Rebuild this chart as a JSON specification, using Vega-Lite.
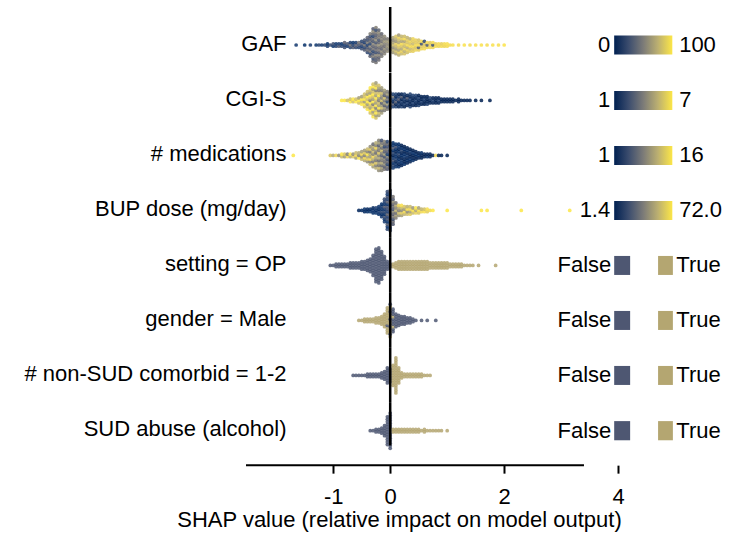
{
  "$schema": "https://vega.github.io/schema/vega-lite/v6.json",
  "padding": {"left": 23, "top": 5, "right": 5, "bottom": 5},
  "spacing": 0,
  "bounds": "flush",
  "config": {
    "view": {"stroke": null},
    "font": "Liberation Sans",
    "axis": {"titleFont": "Liberation Sans", "labelFont": "Liberation Sans", "titleFontWeight": "normal", "titleColor": "black", "labelColor": "black", "grid": false, "titleFontSize": 22, "labelFontSize": 22},
    "text": {"font": "Liberation Sans", "fontSize": 22, "color": "black"},
    "circle": {"size": 14, "opacity": 0.85}
  },
  "resolve": {"scale": {"color": "independent", "y": "independent"}},
  "datasets": {
    "swarm": [
      {"f":"GAF","s":-1.65,"v":[12]},{"f":"GAF","s":-1.5,"v":[8]},{"f":"GAF","s":-1.4,"v":[15]},{"f":"GAF","s":-1.3,"v":[10]},{"f":"GAF","s":-1.25,"v":[18]},{"f":"GAF","s":-1.2,"v":[12]},{"f":"GAF","s":-1.15,"v":[20]},{"f":"GAF","s":-1.1,"v":[15,8]},{"f":"GAF","s":-1.05,"v":[22]},{"f":"GAF","s":-1.0,"v":[10,25]},{"f":"GAF","s":-0.95,"v":[18,12]},{"f":"GAF","s":-0.9,"v":[30,15]},{"f":"GAF","s":-0.85,"v":[20,10]},{"f":"GAF","s":-0.8,"v":[25,15,35]},{"f":"GAF","s":-0.75,"v":[12,28]},{"f":"GAF","s":-0.7,"v":[20,40,15]},{"f":"GAF","s":-0.65,"v":[30,18,10]},{"f":"GAF","s":-0.6,"v":[22,35,15]},{"f":"GAF","s":-0.55,"v":[18,28,45]},{"f":"GAF","s":-0.5,"v":[25,15,35,20]},{"f":"GAF","s":-0.45,"v":[30,20,45,15,28]},{"f":"GAF","s":-0.4,"v":[22,40,30,15,50,25,35]},{"f":"GAF","s":-0.35,"v":[35,20,45,28,55,18,40,30,25,50]},{"f":"GAF","s":-0.3,"v":[40,25,50,30,20,45,35,55,28,42,18,38,60,32]},{"f":"GAF","s":-0.25,"v":[45,30,38,55,25,42,35,50,28,60,40,33,48,22,52]},{"f":"GAF","s":-0.2,"v":[42,35,55,30,48,40,62,38,28,50,45,58,36]},{"f":"GAF","s":-0.15,"v":[50,40,58,35,45,62,42,55,48,38]},{"f":"GAF","s":-0.1,"v":[55,45,60,42,52,65,48,58]},{"f":"GAF","s":-0.05,"v":[58,50,62,55,65,48]},{"f":"GAF","s":0.0,"v":[60,68,55,72,62]},{"f":"GAF","s":0.05,"v":[65,75,60,80,70,58,72]},{"f":"GAF","s":0.1,"v":[70,82,65,78,88,62,75,85]},{"f":"GAF","s":0.15,"v":[75,88,68,82,92,72,80,90,65]},{"f":"GAF","s":0.2,"v":[80,90,72,85,95,70,88,78]},{"f":"GAF","s":0.25,"v":[85,75,92,80,88,70,95,82]},{"f":"GAF","s":0.3,"v":[82,90,75,95,85,88,78]},{"f":"GAF","s":0.35,"v":[88,80,95,85,92,75]},{"f":"GAF","s":0.4,"v":[90,85,95,80,88,92]},{"f":"GAF","s":0.45,"v":[92,85,95,88,90]},{"f":"GAF","s":0.5,"v":[90,30,95,88,85]},{"f":"GAF","s":0.55,"v":[92,88,25,95]},{"f":"GAF","s":0.6,"v":[95,90,85,20]},{"f":"GAF","s":0.65,"v":[92,28,95]},{"f":"GAF","s":0.7,"v":[95,90,88]},{"f":"GAF","s":0.75,"v":[92,22,95]},{"f":"GAF","s":0.8,"v":[95,90]},{"f":"GAF","s":0.85,"v":[92,95]},{"f":"GAF","s":0.9,"v":[95,90]},{"f":"GAF","s":0.95,"v":[92,95]},{"f":"GAF","s":1.0,"v":[95,97]},{"f":"GAF","s":1.05,"v":[95]},{"f":"GAF","s":1.1,"v":[97]},{"f":"GAF","s":1.2,"v":[95]},{"f":"GAF","s":1.3,"v":[98]},{"f":"GAF","s":1.4,"v":[95]},{"f":"GAF","s":1.5,"v":[97]},{"f":"GAF","s":1.6,"v":[98]},{"f":"GAF","s":1.7,"v":[96]},{"f":"GAF","s":1.8,"v":[98]},{"f":"GAF","s":1.9,"v":[97]},{"f":"GAF","s":2.0,"v":[99]},

      {"f":"CGI","s":-0.85,"v":[7]},{"f":"CGI","s":-0.8,"v":[7]},{"f":"CGI","s":-0.75,"v":[6]},{"f":"CGI","s":-0.7,"v":[7,6]},{"f":"CGI","s":-0.65,"v":[6,7]},{"f":"CGI","s":-0.6,"v":[7,6]},{"f":"CGI","s":-0.55,"v":[6,7,5]},{"f":"CGI","s":-0.5,"v":[7,6,7,5]},{"f":"CGI","s":-0.45,"v":[6,7,5,7,6,6]},{"f":"CGI","s":-0.4,"v":[7,6,5,7,6,7,5,6]},{"f":"CGI","s":-0.35,"v":[6,7,5,6,7,4,6,7,5,6,7]},{"f":"CGI","s":-0.3,"v":[7,6,5,7,6,4,7,5,6,7,6,5,7,6]},{"f":"CGI","s":-0.25,"v":[6,5,7,6,4,7,5,6,7,5,6,4,7,6,5]},{"f":"CGI","s":-0.2,"v":[5,6,4,7,5,6,4,5,7,6,4,5,6]},{"f":"CGI","s":-0.15,"v":[5,4,6,5,3,6,4,5,6,4,5]},{"f":"CGI","s":-0.1,"v":[4,5,3,5,4,6,3,4,5]},{"f":"CGI","s":-0.05,"v":[4,3,5,2,4,3,5,4]},{"f":"CGI","s":0.0,"v":[3,2,4,3,2,4,3]},{"f":"CGI","s":0.05,"v":[2,3,1,2,4,2]},{"f":"CGI","s":0.1,"v":[2,1,3,2,1,2]},{"f":"CGI","s":0.15,"v":[1,2,1,3,2,1]},{"f":"CGI","s":0.2,"v":[2,1,2,1,3,1]},{"f":"CGI","s":0.25,"v":[1,2,1,2,1,2]},{"f":"CGI","s":0.3,"v":[1,2,1,3,1]},{"f":"CGI","s":0.35,"v":[2,1,1,2,1,2]},{"f":"CGI","s":0.4,"v":[1,2,1,1,2]},{"f":"CGI","s":0.45,"v":[1,1,2,1,2]},{"f":"CGI","s":0.5,"v":[2,1,1,2,1]},{"f":"CGI","s":0.55,"v":[1,2,1,1]},{"f":"CGI","s":0.6,"v":[1,1,2,1]},{"f":"CGI","s":0.65,"v":[2,1,1,1]},{"f":"CGI","s":0.7,"v":[1,1,2]},{"f":"CGI","s":0.75,"v":[1,2,1]},{"f":"CGI","s":0.8,"v":[1,1,1]},{"f":"CGI","s":0.85,"v":[1,2,1]},{"f":"CGI","s":0.9,"v":[1,1]},{"f":"CGI","s":0.95,"v":[1,1]},{"f":"CGI","s":1.0,"v":[1,1]},{"f":"CGI","s":1.05,"v":[1,1]},{"f":"CGI","s":1.1,"v":[1,1]},{"f":"CGI","s":1.15,"v":[1]},{"f":"CGI","s":1.2,"v":[1,1]},{"f":"CGI","s":1.25,"v":[1]},{"f":"CGI","s":1.3,"v":[1]},{"f":"CGI","s":1.35,"v":[1]},{"f":"CGI","s":1.4,"v":[1]},{"f":"CGI","s":1.5,"v":[1]},{"f":"CGI","s":1.6,"v":[1]},{"f":"CGI","s":1.75,"v":[1]},

      {"f":"MED","s":-1.7,"v":[16]},{"f":"MED","s":-1.05,"v":[14]},{"f":"MED","s":-1.0,"v":[12]},{"f":"MED","s":-0.95,"v":[15]},{"f":"MED","s":-0.9,"v":[10]},{"f":"MED","s":-0.85,"v":[13,16]},{"f":"MED","s":-0.8,"v":[11,14]},{"f":"MED","s":-0.75,"v":[15,9]},{"f":"MED","s":-0.7,"v":[12,16]},{"f":"MED","s":-0.65,"v":[14,10]},{"f":"MED","s":-0.6,"v":[11,15,13]},{"f":"MED","s":-0.55,"v":[16,9,12]},{"f":"MED","s":-0.5,"v":[13,10,15,11]},{"f":"MED","s":-0.45,"v":[12,15,9,14,11]},{"f":"MED","s":-0.4,"v":[10,14,12,16,9,13]},{"f":"MED","s":-0.35,"v":[13,9,15,11,12,8,14,10]},{"f":"MED","s":-0.3,"v":[11,14,8,12,15,9,13,10,12,7]},{"f":"MED","s":-0.25,"v":[12,9,14,8,11,13,7,10,15,9,12]},{"f":"MED","s":-0.2,"v":[10,13,8,11,7,12,9,14,8,10,6,11,9]},{"f":"MED","s":-0.15,"v":[9,11,7,12,8,10,6,9,13,7,11,8,5]},{"f":"MED","s":-0.1,"v":[8,6,10,7,9,5,11,6,8,4,7,9]},{"f":"MED","s":-0.05,"v":[6,8,4,7,5,9,3,6,8,5,7,4]},{"f":"MED","s":0.0,"v":[5,3,6,4,7,2,5,3,6,4,8]},{"f":"MED","s":0.05,"v":[3,4,2,5,3,1,4,2,6,3,2]},{"f":"MED","s":0.1,"v":[2,3,1,4,2,3,1,2,5,2]},{"f":"MED","s":0.15,"v":[2,1,3,2,1,4,2,1,3,2]},{"f":"MED","s":0.2,"v":[1,2,3,1,2,1,4,2,1]},{"f":"MED","s":0.25,"v":[2,1,1,3,2,1,2,1]},{"f":"MED","s":0.3,"v":[1,2,1,3,1,2,1]},{"f":"MED","s":0.35,"v":[1,2,1,1,3,1]},{"f":"MED","s":0.4,"v":[2,1,1,2,1]},{"f":"MED","s":0.45,"v":[1,1,2,1]},{"f":"MED","s":0.5,"v":[1,2,1]},{"f":"MED","s":0.55,"v":[1,1,2]},{"f":"MED","s":0.6,"v":[1,1]},{"f":"MED","s":0.65,"v":[2,1]},{"f":"MED","s":0.7,"v":[1,1]},{"f":"MED","s":0.75,"v":[1]},{"f":"MED","s":0.8,"v":[15]},{"f":"MED","s":0.85,"v":[1]},{"f":"MED","s":0.9,"v":[1]},{"f":"MED","s":1.0,"v":[1]},

      {"f":"BUP","s":-0.55,"v":[3]},{"f":"BUP","s":-0.5,"v":[5]},{"f":"BUP","s":-0.45,"v":[4,8]},{"f":"BUP","s":-0.4,"v":[6,3]},{"f":"BUP","s":-0.35,"v":[8,4]},{"f":"BUP","s":-0.3,"v":[5,10,3]},{"f":"BUP","s":-0.25,"v":[8,4,12]},{"f":"BUP","s":-0.2,"v":[6,12,4,9]},{"f":"BUP","s":-0.15,"v":[10,5,16,8,12,6]},{"f":"BUP","s":-0.1,"v":[12,8,20,6,16,10,24,9,14,18]},{"f":"BUP","s":-0.05,"v":[16,10,24,8,20,14,28,12,18,22,9,26,15,20,11,17]},{"f":"BUP","s":0.0,"v":[20,14,28,12,24,18,32,16,22,26,13,30,19,24,15,21,27]},{"f":"BUP","s":0.05,"v":[24,30,20,36,26,40,22,32,28,44,25,34]},{"f":"BUP","s":0.1,"v":[36,48,30,56,40,52,34]},{"f":"BUP","s":0.15,"v":[44,60,38,52,66]},{"f":"BUP","s":0.2,"v":[50,64,42,58,70]},{"f":"BUP","s":0.25,"v":[56,68,46,62]},{"f":"BUP","s":0.3,"v":[60,42,70,54]},{"f":"BUP","s":0.35,"v":[64,50,68,58]},{"f":"BUP","s":0.4,"v":[58,70,46]},{"f":"BUP","s":0.45,"v":[66,52,72]},{"f":"BUP","s":0.5,"v":[62,70,50]},{"f":"BUP","s":0.55,"v":[68,56]},{"f":"BUP","s":0.6,"v":[70,60]},{"f":"BUP","s":0.65,"v":[64,70]},{"f":"BUP","s":0.7,"v":[68]},{"f":"BUP","s":0.75,"v":[72]},{"f":"BUP","s":1.0,"v":[72]},{"f":"BUP","s":1.6,"v":[72]},{"f":"BUP","s":1.7,"v":[72]},{"f":"BUP","s":2.3,"v":[72]},{"f":"BUP","s":3.15,"v":[72]},

      {"f":"OP","s":-1.05,"v":[0]},{"f":"OP","s":-1.0,"v":[0]},{"f":"OP","s":-0.95,"v":[0,0]},{"f":"OP","s":-0.9,"v":[0,0]},{"f":"OP","s":-0.85,"v":[0,0]},{"f":"OP","s":-0.8,"v":[0,0]},{"f":"OP","s":-0.75,"v":[0,0]},{"f":"OP","s":-0.7,"v":[0,0,0]},{"f":"OP","s":-0.65,"v":[0,0,0]},{"f":"OP","s":-0.6,"v":[0,0,0]},{"f":"OP","s":-0.55,"v":[0,0,0]},{"f":"OP","s":-0.5,"v":[0,0,0,0]},{"f":"OP","s":-0.45,"v":[0,0,0,0]},{"f":"OP","s":-0.4,"v":[0,0,0,0,0]},{"f":"OP","s":-0.35,"v":[0,0,0,0,0,0]},{"f":"OP","s":-0.3,"v":[0,0,0,0,0,0,0,0,0]},{"f":"OP","s":-0.25,"v":[0,0,0,0,0,0,0,0,0,0,0,0,0,0]},{"f":"OP","s":-0.2,"v":[0,0,0,0,0,0,0,0,0,0,0,0,0,0,0]},{"f":"OP","s":-0.15,"v":[0,0,0,0,0,0,0,0,0,0,0,0]},{"f":"OP","s":-0.1,"v":[0,0,0,0,0,0,0,0]},{"f":"OP","s":-0.05,"v":[0,0,0,0]},{"f":"OP","s":0.0,"v":[0,0]},
      {"f":"OP","s":0.05,"v":[1,1]},{"f":"OP","s":0.1,"v":[1,1,1]},{"f":"OP","s":0.15,"v":[1,1,1,1]},{"f":"OP","s":0.2,"v":[1,1,1,1]},{"f":"OP","s":0.25,"v":[1,1,1,1]},{"f":"OP","s":0.3,"v":[1,1,1,1]},{"f":"OP","s":0.35,"v":[1,1,1,1]},{"f":"OP","s":0.4,"v":[1,1,1,1]},{"f":"OP","s":0.45,"v":[1,1,1,1]},{"f":"OP","s":0.5,"v":[1,1,1,1]},{"f":"OP","s":0.55,"v":[1,1,1,1]},{"f":"OP","s":0.6,"v":[1,1,1,1]},{"f":"OP","s":0.65,"v":[1,1,1,1]},{"f":"OP","s":0.7,"v":[1,1,1]},{"f":"OP","s":0.75,"v":[1,1,1]},{"f":"OP","s":0.8,"v":[1,1,1]},{"f":"OP","s":0.85,"v":[1,1,1]},{"f":"OP","s":0.9,"v":[1,1,1]},{"f":"OP","s":0.95,"v":[1,1,1]},{"f":"OP","s":1.0,"v":[1,1,1]},{"f":"OP","s":1.05,"v":[1,1]},{"f":"OP","s":1.1,"v":[1,1]},{"f":"OP","s":1.15,"v":[1,1]},{"f":"OP","s":1.2,"v":[1,1]},{"f":"OP","s":1.25,"v":[1,1]},{"f":"OP","s":1.3,"v":[1]},{"f":"OP","s":1.35,"v":[1]},{"f":"OP","s":1.4,"v":[1]},{"f":"OP","s":1.45,"v":[1]},{"f":"OP","s":1.55,"v":[1]},{"f":"OP","s":1.85,"v":[1]},

      {"f":"MALE","s":-0.55,"v":[1]},{"f":"MALE","s":-0.5,"v":[1]},{"f":"MALE","s":-0.45,"v":[1,1]},{"f":"MALE","s":-0.4,"v":[1,1]},{"f":"MALE","s":-0.35,"v":[1,1]},{"f":"MALE","s":-0.3,"v":[1,1]},{"f":"MALE","s":-0.25,"v":[1,1,1]},{"f":"MALE","s":-0.2,"v":[1,1,1]},{"f":"MALE","s":-0.15,"v":[1,1,1,1]},{"f":"MALE","s":-0.1,"v":[1,1,1,1,1,1]},{"f":"MALE","s":-0.05,"v":[1,1,1,0,1,1,1,1,1,1,1]},{"f":"MALE","s":0.0,"v":[1,0,1,1,0,1,1,0,1,1,0,1,1,0]},{"f":"MALE","s":0.05,"v":[0,0,1,0,0,0,1,0,0,0]},{"f":"MALE","s":0.1,"v":[0,0,0,0,0,0]},{"f":"MALE","s":0.15,"v":[0,0,0,0,0]},{"f":"MALE","s":0.2,"v":[0,0,0,0]},{"f":"MALE","s":0.25,"v":[0,0,0,0]},{"f":"MALE","s":0.3,"v":[0,0,0]},{"f":"MALE","s":0.35,"v":[0,0,0]},{"f":"MALE","s":0.4,"v":[0,0]},{"f":"MALE","s":0.45,"v":[0]},{"f":"MALE","s":0.55,"v":[0]},{"f":"MALE","s":0.65,"v":[0]},{"f":"MALE","s":0.8,"v":[0]},

      {"f":"NSUD","s":-0.65,"v":[0]},{"f":"NSUD","s":-0.6,"v":[0]},{"f":"NSUD","s":-0.55,"v":[0]},{"f":"NSUD","s":-0.5,"v":[0]},{"f":"NSUD","s":-0.45,"v":[0]},{"f":"NSUD","s":-0.4,"v":[0,0]},{"f":"NSUD","s":-0.35,"v":[0,0]},{"f":"NSUD","s":-0.3,"v":[0,0]},{"f":"NSUD","s":-0.25,"v":[0,0]},{"f":"NSUD","s":-0.2,"v":[0,0]},{"f":"NSUD","s":-0.15,"v":[0,0,0]},{"f":"NSUD","s":-0.1,"v":[0,0,0,0]},{"f":"NSUD","s":-0.05,"v":[0,0,0,0,0,0,0]},{"f":"NSUD","s":0.0,"v":[0,0,0,0,0,0]},
      {"f":"NSUD","s":0.05,"v":[1,1,1,1,1,1,1,1,1]},{"f":"NSUD","s":0.1,"v":[1,1,1,1,1,1,1,1,1,1,1,1,1,1,1]},{"f":"NSUD","s":0.15,"v":[1,1,1,1,1,1,1]},{"f":"NSUD","s":0.2,"v":[1,1,1]},{"f":"NSUD","s":0.25,"v":[1,1]},{"f":"NSUD","s":0.3,"v":[1,1]},{"f":"NSUD","s":0.35,"v":[1,1]},{"f":"NSUD","s":0.4,"v":[1,1]},{"f":"NSUD","s":0.45,"v":[1,1]},{"f":"NSUD","s":0.5,"v":[1,1]},{"f":"NSUD","s":0.55,"v":[1,1]},{"f":"NSUD","s":0.6,"v":[1]},{"f":"NSUD","s":0.65,"v":[1]},{"f":"NSUD","s":0.7,"v":[1]},

      {"f":"ALC","s":-0.35,"v":[0]},{"f":"ALC","s":-0.3,"v":[0]},{"f":"ALC","s":-0.25,"v":[0,0]},{"f":"ALC","s":-0.2,"v":[0,0]},{"f":"ALC","s":-0.15,"v":[0,0,0]},{"f":"ALC","s":-0.1,"v":[0,0,0,0,0]},{"f":"ALC","s":-0.05,"v":[0,0,0,0,0,0,0,0,0,0,0,0]},{"f":"ALC","s":0.0,"v":[0,0,0,0,0,0,0,0,0,0,0,0,0,0,0]},
      {"f":"ALC","s":0.05,"v":[1,1]},{"f":"ALC","s":0.1,"v":[1,1]},{"f":"ALC","s":0.15,"v":[1,1]},{"f":"ALC","s":0.2,"v":[1,1]},{"f":"ALC","s":0.25,"v":[1,1]},{"f":"ALC","s":0.3,"v":[1,1]},{"f":"ALC","s":0.35,"v":[1,1]},{"f":"ALC","s":0.4,"v":[1,1]},{"f":"ALC","s":0.45,"v":[1,1]},{"f":"ALC","s":0.5,"v":[1,1]},{"f":"ALC","s":0.55,"v":[1]},{"f":"ALC","s":0.6,"v":[1,1]},{"f":"ALC","s":0.65,"v":[1]},{"f":"ALC","s":0.7,"v":[1]},{"f":"ALC","s":0.75,"v":[1]},{"f":"ALC","s":0.8,"v":[1]},{"f":"ALC","s":0.85,"v":[1]},{"f":"ALC","s":0.9,"v":[1]},{"f":"ALC","s":1.0,"v":[1]}
    ]
  },
  "vconcat": [
    {
      "width": 479.9, "height": 65.45,
      "layer": [
        {"data": {"name": "swarm"},
         "transform": [{"filter": "datum.f === 'GAF'"}, {"flatten": ["v"]}, {"window": [{"op": "row_number", "as": "id"}]}],
         "mark": {"type": "circle"},
         "encoding": {
           "x": {"field": "s", "type": "quantitative", "scale": {"domain": [-2.53, 5.89], "nice": false, "zero": false}, "axis": null},
           "y": {"aggregate": "count", "type": "quantitative", "stack": "center", "scale": {"domain": [-2.98, 23.2], "nice": false, "zero": false},
                 "axis": {"title": "GAF", "titleAngle": 0, "titleAlign": "right", "titleBaseline": "middle", "titleX": 40, "titleY": 36, "labels": false, "ticks": false, "domain": false}},
           "detail": {"field": "id", "type": "quantitative"},
           "order": {"field": "id", "type": "quantitative"},
           "color": {"field": "v", "type": "quantitative", "scale": {"scheme": "cividis", "domain": [0, 100]}, "legend": null}
         }},
        {"data": {"values": [{}]}, "mark": {"type": "rule", "color": "black", "strokeWidth": 2.5}, "encoding": {"x": {"datum": 0}}},
        {"data": {"values": [{}]}, "mark": {"type": "rect", "fill": {"gradient": "linear", "x1": 0, "y1": 0, "x2": 1, "y2": 0, "stops": [{"offset": 0, "color": "#002051"}, {"offset": 0.25, "color": "#3c4d6e"}, {"offset": 0.5, "color": "#7c7b78"}, {"offset": 0.75, "color": "#bbaf71"}, {"offset": 1, "color": "#fce647"}]}},
         "encoding": {"x": {"datum": 3.93}, "x2": {"datum": 4.95}, "y": {"datum": 4.2}, "y2": {"datum": 11.8}}},
        {"data": {"values": [{}]}, "mark": {"type": "text", "text": "0", "align": "right", "baseline": "middle"}, "encoding": {"x": {"datum": 3.86}, "y": {"datum": 8}}},
        {"data": {"values": [{}]}, "mark": {"type": "text", "text": "100", "align": "left", "baseline": "middle"}, "encoding": {"x": {"datum": 5.07}, "y": {"datum": 8}}}
      ]
    },
    {
      "width": 479.9, "height": 54.9,
      "layer": [
        {"data": {"name": "swarm"},
         "transform": [{"filter": "datum.f === 'CGI'"}, {"flatten": ["v"]}, {"window": [{"op": "row_number", "as": "id"}]}],
         "mark": {"type": "circle"},
         "encoding": {
           "x": {"field": "s", "type": "quantitative", "scale": {"domain": [-2.53, 5.89], "nice": false, "zero": false}, "axis": null},
           "y": {"aggregate": "count", "type": "quantitative", "stack": "center", "scale": {"domain": [-2.98, 18.98], "nice": false, "zero": false},
                 "axis": {"title": "CGI-S", "titleAngle": 0, "titleAlign": "right", "titleBaseline": "middle", "titleX": 40, "titleY": 25.5, "labels": false, "ticks": false, "domain": false}},
           "detail": {"field": "id", "type": "quantitative"},
           "order": {"field": "id", "type": "quantitative"},
           "color": {"field": "v", "type": "quantitative", "scale": {"scheme": "cividis", "domain": [1, 7]}, "legend": null}
         }},
        {"data": {"values": [{}]}, "mark": {"type": "rule", "color": "black", "strokeWidth": 2.5}, "encoding": {"x": {"datum": 0}}},
        {"data": {"values": [{}]}, "mark": {"type": "rect", "fill": {"gradient": "linear", "x1": 0, "y1": 0, "x2": 1, "y2": 0, "stops": [{"offset": 0, "color": "#002051"}, {"offset": 0.25, "color": "#3c4d6e"}, {"offset": 0.5, "color": "#7c7b78"}, {"offset": 0.75, "color": "#bbaf71"}, {"offset": 1, "color": "#fce647"}]}},
         "encoding": {"x": {"datum": 3.93}, "x2": {"datum": 4.95}, "y": {"datum": 4.2}, "y2": {"datum": 11.8}}},
        {"data": {"values": [{}]}, "mark": {"type": "text", "text": "1", "align": "right", "baseline": "middle"}, "encoding": {"x": {"datum": 3.86}, "y": {"datum": 8}}},
        {"data": {"values": [{}]}, "mark": {"type": "text", "text": "7", "align": "left", "baseline": "middle"}, "encoding": {"x": {"datum": 5.07}, "y": {"datum": 8}}}
      ]
    },
    {
      "width": 479.9, "height": 54.9,
      "layer": [
        {"data": {"name": "swarm"},
         "transform": [{"filter": "datum.f === 'MED'"}, {"flatten": ["v"]}, {"window": [{"op": "row_number", "as": "id"}]}],
         "mark": {"type": "circle"},
         "encoding": {
           "x": {"field": "s", "type": "quantitative", "scale": {"domain": [-2.53, 5.89], "nice": false, "zero": false}, "axis": null},
           "y": {"aggregate": "count", "type": "quantitative", "stack": "center", "scale": {"domain": [-3.98, 17.98], "nice": false, "zero": false},
                 "axis": {"title": "# medications", "titleAngle": 0, "titleAlign": "right", "titleBaseline": "middle", "titleX": 40, "titleY": 25.5, "labels": false, "ticks": false, "domain": false}},
           "detail": {"field": "id", "type": "quantitative"},
           "order": {"field": "id", "type": "quantitative"},
           "color": {"field": "v", "type": "quantitative", "scale": {"scheme": "cividis", "domain": [1, 16]}, "legend": null}
         }},
        {"data": {"values": [{}]}, "mark": {"type": "rule", "color": "black", "strokeWidth": 2.5}, "encoding": {"x": {"datum": 0}}},
        {"data": {"values": [{}]}, "mark": {"type": "rect", "fill": {"gradient": "linear", "x1": 0, "y1": 0, "x2": 1, "y2": 0, "stops": [{"offset": 0, "color": "#002051"}, {"offset": 0.25, "color": "#3c4d6e"}, {"offset": 0.5, "color": "#7c7b78"}, {"offset": 0.75, "color": "#bbaf71"}, {"offset": 1, "color": "#fce647"}]}},
         "encoding": {"x": {"datum": 3.93}, "x2": {"datum": 4.95}, "y": {"datum": 3.2}, "y2": {"datum": 10.8}}},
        {"data": {"values": [{}]}, "mark": {"type": "text", "text": "1", "align": "right", "baseline": "middle"}, "encoding": {"x": {"datum": 3.86}, "y": {"datum": 7}}},
        {"data": {"values": [{}]}, "mark": {"type": "text", "text": "16", "align": "left", "baseline": "middle"}, "encoding": {"x": {"datum": 5.07}, "y": {"datum": 7}}}
      ]
    },
    {
      "width": 479.9, "height": 54.9,
      "layer": [
        {"data": {"name": "swarm"},
         "transform": [{"filter": "datum.f === 'BUP'"}, {"flatten": ["v"]}, {"window": [{"op": "row_number", "as": "id"}]}],
         "mark": {"type": "circle"},
         "encoding": {
           "x": {"field": "s", "type": "quantitative", "scale": {"domain": [-2.53, 5.89], "nice": false, "zero": false}, "axis": null},
           "y": {"aggregate": "count", "type": "quantitative", "stack": "center", "scale": {"domain": [-1.98, 19.98], "nice": false, "zero": false},
                 "axis": {"title": "BUP dose (mg/day)", "titleAngle": 0, "titleAlign": "right", "titleBaseline": "middle", "titleX": 40, "titleY": 25.5, "labels": false, "ticks": false, "domain": false}},
           "detail": {"field": "id", "type": "quantitative"},
           "order": {"field": "id", "type": "quantitative"},
           "color": {"field": "v", "type": "quantitative", "scale": {"scheme": "cividis", "domain": [1.4, 72]}, "legend": null}
         }},
        {"data": {"values": [{}]}, "mark": {"type": "rule", "color": "black", "strokeWidth": 2.5}, "encoding": {"x": {"datum": 0}}},
        {"data": {"values": [{}]}, "mark": {"type": "rect", "fill": {"gradient": "linear", "x1": 0, "y1": 0, "x2": 1, "y2": 0, "stops": [{"offset": 0, "color": "#002051"}, {"offset": 0.25, "color": "#3c4d6e"}, {"offset": 0.5, "color": "#7c7b78"}, {"offset": 0.75, "color": "#bbaf71"}, {"offset": 1, "color": "#fce647"}]}},
         "encoding": {"x": {"datum": 3.93}, "x2": {"datum": 4.95}, "y": {"datum": 5.2}, "y2": {"datum": 12.8}}},
        {"data": {"values": [{}]}, "mark": {"type": "text", "text": "1.4", "align": "right", "baseline": "middle"}, "encoding": {"x": {"datum": 3.86}, "y": {"datum": 9}}},
        {"data": {"values": [{}]}, "mark": {"type": "text", "text": "72.0", "align": "left", "baseline": "middle"}, "encoding": {"x": {"datum": 5.07}, "y": {"datum": 9}}}
      ]
    },
    {
      "width": 479.9, "height": 54.9,
      "layer": [
        {"data": {"name": "swarm"},
         "transform": [{"filter": "datum.f === 'OP'"}, {"flatten": ["v"]}, {"window": [{"op": "row_number", "as": "id"}]}],
         "mark": {"type": "circle"},
         "encoding": {
           "x": {"field": "s", "type": "quantitative", "scale": {"domain": [-2.53, 5.89], "nice": false, "zero": false}, "axis": null},
           "y": {"aggregate": "count", "type": "quantitative", "stack": "center", "scale": {"domain": [-2.98, 18.98], "nice": false, "zero": false},
                 "axis": {"title": "setting = OP", "titleAngle": 0, "titleAlign": "right", "titleBaseline": "middle", "titleX": 40, "titleY": 25.5, "labels": false, "ticks": false, "domain": false}},
           "detail": {"field": "id", "type": "quantitative"},
           "order": {"field": "id", "type": "quantitative"},
           "color": {"field": "v", "type": "quantitative", "scale": {"domain": [0, 1], "range": ["#4e5772", "#b4a671"]}, "legend": null}
         }},
        {"data": {"values": [{}]}, "mark": {"type": "rule", "color": "black", "strokeWidth": 2.5}, "encoding": {"x": {"datum": 0}}},
        {"data": {"values": [{}]}, "mark": {"type": "rect", "fill": "#4e5772"}, "encoding": {"x": {"datum": 3.93}, "x2": {"datum": 4.21}, "y": {"datum": 4.2}, "y2": {"datum": 11.8}}},
        {"data": {"values": [{}]}, "mark": {"type": "rect", "fill": "#b4a671"}, "encoding": {"x": {"datum": 4.7}, "x2": {"datum": 4.96}, "y": {"datum": 4.2}, "y2": {"datum": 11.8}}},
        {"data": {"values": [{}]}, "mark": {"type": "text", "text": "False", "align": "right", "baseline": "middle"}, "encoding": {"x": {"datum": 3.88}, "y": {"datum": 8}}},
        {"data": {"values": [{}]}, "mark": {"type": "text", "text": "True", "align": "left", "baseline": "middle"}, "encoding": {"x": {"datum": 5.02}, "y": {"datum": 8}}}
      ]
    },
    {
      "width": 479.9, "height": 54.9,
      "layer": [
        {"data": {"name": "swarm"},
         "transform": [{"filter": "datum.f === 'MALE'"}, {"flatten": ["v"]}, {"window": [{"op": "row_number", "as": "id"}]}],
         "mark": {"type": "circle"},
         "encoding": {
           "x": {"field": "s", "type": "quantitative", "scale": {"domain": [-2.53, 5.89], "nice": false, "zero": false}, "axis": null},
           "y": {"aggregate": "count", "type": "quantitative", "stack": "center", "scale": {"domain": [-3.48, 18.48], "nice": false, "zero": false},
                 "axis": {"title": "gender = Male", "titleAngle": 0, "titleAlign": "right", "titleBaseline": "middle", "titleX": 40, "titleY": 25.5, "labels": false, "ticks": false, "domain": false}},
           "detail": {"field": "id", "type": "quantitative"},
           "order": {"field": "id", "type": "quantitative"},
           "color": {"field": "v", "type": "quantitative", "scale": {"domain": [0, 1], "range": ["#4e5772", "#b4a671"]}, "legend": null}
         }},
        {"data": {"values": [{}]}, "mark": {"type": "rule", "color": "black", "strokeWidth": 2.5}, "encoding": {"x": {"datum": 0}}},
        {"data": {"values": [{}]}, "mark": {"type": "rect", "fill": "#4e5772"}, "encoding": {"x": {"datum": 3.93}, "x2": {"datum": 4.21}, "y": {"datum": 3.7}, "y2": {"datum": 11.3}}},
        {"data": {"values": [{}]}, "mark": {"type": "rect", "fill": "#b4a671"}, "encoding": {"x": {"datum": 4.7}, "x2": {"datum": 4.96}, "y": {"datum": 3.7}, "y2": {"datum": 11.3}}},
        {"data": {"values": [{}]}, "mark": {"type": "text", "text": "False", "align": "right", "baseline": "middle"}, "encoding": {"x": {"datum": 3.88}, "y": {"datum": 7.5}}},
        {"data": {"values": [{}]}, "mark": {"type": "text", "text": "True", "align": "left", "baseline": "middle"}, "encoding": {"x": {"datum": 5.02}, "y": {"datum": 7.5}}}
      ]
    },
    {
      "width": 479.9, "height": 54.9,
      "layer": [
        {"data": {"name": "swarm"},
         "transform": [{"filter": "datum.f === 'NSUD'"}, {"flatten": ["v"]}, {"window": [{"op": "row_number", "as": "id"}]}],
         "mark": {"type": "circle"},
         "encoding": {
           "x": {"field": "s", "type": "quantitative", "scale": {"domain": [-2.53, 5.89], "nice": false, "zero": false}, "axis": null},
           "y": {"aggregate": "count", "type": "quantitative", "stack": "center", "scale": {"domain": [-2.98, 18.98], "nice": false, "zero": false},
                 "axis": {"title": "# non-SUD comorbid = 1-2", "titleAngle": 0, "titleAlign": "right", "titleBaseline": "middle", "titleX": 40, "titleY": 25.5, "labels": false, "ticks": false, "domain": false}},
           "detail": {"field": "id", "type": "quantitative"},
           "order": {"field": "id", "type": "quantitative"},
           "color": {"field": "v", "type": "quantitative", "scale": {"domain": [0, 1], "range": ["#4e5772", "#b4a671"]}, "legend": null}
         }},
        {"data": {"values": [{}]}, "mark": {"type": "rule", "color": "black", "strokeWidth": 2.5}, "encoding": {"x": {"datum": 0}}},
        {"data": {"values": [{}]}, "mark": {"type": "rect", "fill": "#4e5772"}, "encoding": {"x": {"datum": 3.93}, "x2": {"datum": 4.21}, "y": {"datum": 4.2}, "y2": {"datum": 11.8}}},
        {"data": {"values": [{}]}, "mark": {"type": "rect", "fill": "#b4a671"}, "encoding": {"x": {"datum": 4.7}, "x2": {"datum": 4.96}, "y": {"datum": 4.2}, "y2": {"datum": 11.8}}},
        {"data": {"values": [{}]}, "mark": {"type": "text", "text": "False", "align": "right", "baseline": "middle"}, "encoding": {"x": {"datum": 3.88}, "y": {"datum": 8}}},
        {"data": {"values": [{}]}, "mark": {"type": "text", "text": "True", "align": "left", "baseline": "middle"}, "encoding": {"x": {"datum": 5.02}, "y": {"datum": 8}}}
      ]
    },
    {
      "width": 479.9, "height": 62.15,
      "layer": [
        {"data": {"name": "swarm"},
         "transform": [{"filter": "datum.f === 'ALC'"}, {"flatten": ["v"]}, {"window": [{"op": "row_number", "as": "id"}]}],
         "mark": {"type": "circle"},
         "encoding": {
           "x": {"field": "s", "type": "quantitative", "scale": {"domain": [-2.53, 5.89], "nice": false, "zero": false},
                 "axis": {"values": [-1, 0, 2, 4], "domain": false, "tickColor": "black", "tickWidth": 2, "tickSize": 8, "labelPadding": 13, "labelExpr": "'' + datum.value", "labelFlush": false, "labelOverlap": false, "title": "SHAP value (relative impact on model output)", "titlePadding": 2, "titleX": 153}},
           "y": {"aggregate": "count", "type": "quantitative", "stack": "center", "scale": {"domain": [-5.66, 18.98], "nice": false, "zero": false},
                 "axis": {"title": "SUD abuse (alcohol)", "titleAngle": 0, "titleAlign": "right", "titleBaseline": "middle", "titleX": 40, "titleY": 25.5, "labels": false, "ticks": false, "domain": false}},
           "detail": {"field": "id", "type": "quantitative"},
           "order": {"field": "id", "type": "quantitative"},
           "color": {"field": "v", "type": "quantitative", "scale": {"domain": [0, 1], "range": ["#4e5772", "#b4a671"]}, "legend": null}
         }},
        {"data": {"values": [{}]}, "mark": {"type": "rule", "color": "black", "strokeWidth": 2.5}, "encoding": {"x": {"datum": 0}, "y": {"datum": 18.98}, "y2": {"datum": 2.12}}},
        {"data": {"values": [{}]}, "mark": {"type": "rule", "color": "black", "strokeWidth": 2}, "encoding": {"x": {"datum": -2.53}, "x2": {"datum": 3.4}, "y": {"datum": -5.66}}},
        {"data": {"values": [{}]}, "mark": {"type": "rect", "fill": "#4e5772"}, "encoding": {"x": {"datum": 3.93}, "x2": {"datum": 4.21}, "y": {"datum": 4.2}, "y2": {"datum": 11.8}}},
        {"data": {"values": [{}]}, "mark": {"type": "rect", "fill": "#b4a671"}, "encoding": {"x": {"datum": 4.7}, "x2": {"datum": 4.96}, "y": {"datum": 4.2}, "y2": {"datum": 11.8}}},
        {"data": {"values": [{}]}, "mark": {"type": "text", "text": "False", "align": "right", "baseline": "middle"}, "encoding": {"x": {"datum": 3.88}, "y": {"datum": 8}}},
        {"data": {"values": [{}]}, "mark": {"type": "text", "text": "True", "align": "left", "baseline": "middle"}, "encoding": {"x": {"datum": 5.02}, "y": {"datum": 8}}}
      ]
    }
  ]
}
